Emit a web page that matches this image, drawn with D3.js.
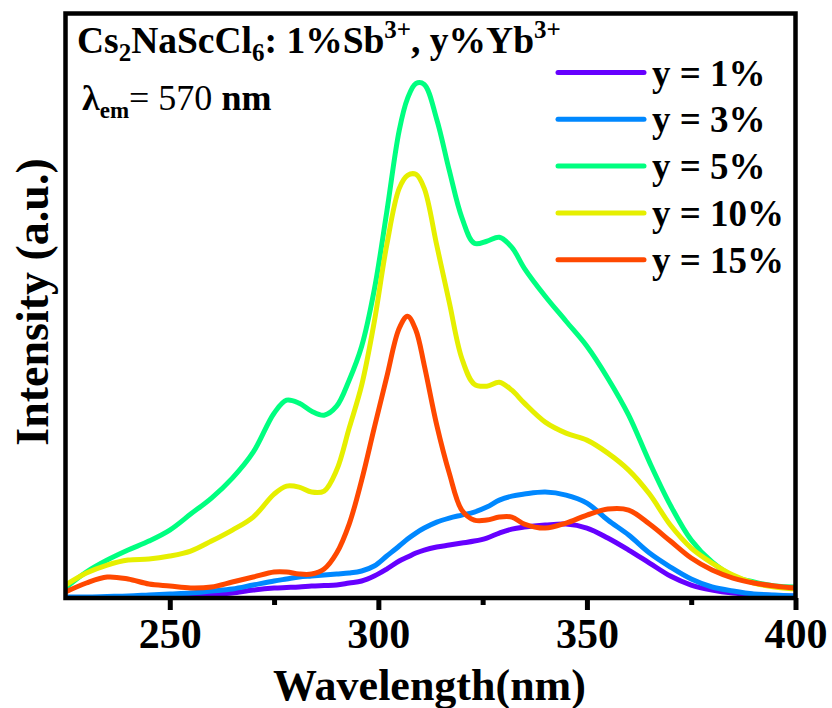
<!DOCTYPE html>
<html>
<head>
<meta charset="utf-8">
<script src="https://cdn.jsdelivr.net/npm/d3@7"></script>
<style>
  html, body { margin: 0; padding: 0; background: #fff; }
  svg text, svg tspan { font-family: "Liberation Serif", "Times New Roman", serif; fill: #000; }
  svg text { font-weight: bold; }
  svg tspan.plain { font-family: "Liberation Serif", "Times New Roman", serif; font-weight: 400; }
</style>
</head>
<body>
<svg id="chart" width="832" height="708"></svg>
<script>
// excitation wavelengths (nm)
var wavelength = [225, 230, 235, 240, 245, 250, 255, 260, 265, 270, 275, 278, 281, 284, 287, 290, 293, 296, 299, 302,
  305, 307, 309, 311, 314, 317, 320, 323, 326, 329, 332, 335, 340, 345, 350, 355, 360, 365, 370, 375,
  380, 385, 390, 395, 400];

// PLE intensity (a.u.) for each Yb3+ content
var yb1 = [0, 0, 0, 0, 0.5, 0.5, 1, 3, 5, 8, 10, 10.5, 11, 12, 12.5, 13, 15, 17, 22, 29,
  37, 41, 45, 48, 51, 53, 55, 57, 60, 65, 69, 71, 73, 74, 70, 60, 48, 35, 22, 13,
  8, 5, 3.5, 2.5, 2];
var yb3 = [1, 1, 1.5, 2, 3, 4, 5, 7, 9, 13, 17, 19, 21, 22, 23, 24, 25, 27, 32, 42,
  52, 59, 65, 70, 76, 80, 83, 86, 91, 98, 102, 104, 106, 103, 95, 78, 63, 45, 31, 19,
  11, 7, 4, 3, 2];
var yb5 = [10, 26, 38, 48, 57, 68, 84, 100, 120, 146, 185, 198, 195, 187, 183, 192, 218, 252, 308, 386,
  468, 500, 515, 514, 479, 428, 381, 355, 357, 361, 351, 330, 302, 277, 252, 220, 183, 136, 93, 58,
  36, 22, 16, 12, 11];
var yb10 = [13, 25, 33, 38, 39, 42, 47, 57, 68, 81, 104, 112, 111, 106, 107, 128, 170, 213, 276, 353,
  410, 423, 424, 410, 353, 296, 240, 214, 212, 216, 208, 195, 176, 165, 158, 145, 128, 104, 73, 50,
  35, 23, 15, 11, 9];
var yb15 = [6, 15, 21, 19, 14, 12, 10, 11, 16, 21, 26, 26, 24, 24, 29, 45, 74, 118, 170, 221,
  270, 282, 268, 233, 173, 125, 88, 78, 78, 81, 81, 74, 70, 75, 83, 89, 88, 74, 57, 40,
  28, 20, 15, 12, 10];

var seriesNames = ['y = 1%', 'y = 3%', 'y = 5%', 'y = 10%', 'y = 15%'];
var seriesValues = [yb1, yb3, yb5, yb10, yb15];
var seriesColors = ['#6600ff', '#0088ff', '#00ff80', '#e6ef00', '#ff4800'];

var xTicks = [250, 300, 350, 400];
var xMinorTicks = [275, 325, 375];

var svg = d3.select('#chart');

// plot area
var plotLeft = 65.5, plotRight = 795.5, plotTop = 13.5, plotBottom = 598;

var x = d3.scaleLinear().domain([225, 400]).range([plotLeft, plotRight]);
var y = d3.scaleLinear().domain([0, 585]).range([plotBottom, plotTop]);

svg.append('defs').append('clipPath').attr('id', 'plotclip')
  .append('rect').attr('x', plotLeft).attr('y', plotTop)
  .attr('width', plotRight - plotLeft).attr('height', plotBottom - plotTop);

var line = d3.line()
  .x(function (d) { return x(d[0]); })
  .y(function (d) { return y(d[1]); })
  .curve(d3.curveCatmullRom.alpha(0.5));

// curves, drawn in legend order
var curves = svg.append('g').attr('clip-path', 'url(#plotclip)');
seriesValues.forEach(function (vals, i) {
  var pts = wavelength.map(function (w, j) { return [w, vals[j]]; });
  curves.append('path')
    .attr('d', line(pts))
    .attr('fill', 'none')
    .attr('stroke', seriesColors[i])
    .attr('stroke-width', 5)
    .attr('stroke-linejoin', 'round');
});

// bottom axis, major and minor ticks
var xAxis = svg.append('g').attr('transform', 'translate(0,' + plotBottom + ')')
  .call(d3.axisBottom(x).tickValues(xTicks).tickSize(12).tickPadding(12));
xAxis.select('.domain').remove();
xAxis.selectAll('.tick line').attr('stroke', '#000').attr('stroke-width', 5);
xAxis.selectAll('.tick text').attr('font-size', 42).attr('dy', '0.62em');

var xMinor = svg.append('g').attr('transform', 'translate(0,' + plotBottom + ')')
  .call(d3.axisBottom(x).tickValues(xMinorTicks).tickSize(7).tickFormat(''));
xMinor.select('.domain').remove();
xMinor.selectAll('.tick line').attr('stroke', '#000').attr('stroke-width', 5);

// frame
svg.append('rect')
  .attr('x', plotLeft).attr('y', plotTop)
  .attr('width', plotRight - plotLeft).attr('height', plotBottom - plotTop)
  .attr('fill', 'none').attr('stroke', '#000').attr('stroke-width', 4.5);

// axis titles
svg.append('text')
  .attr('x', (plotLeft + plotRight) / 2 - 1).attr('y', 700)
  .attr('text-anchor', 'middle').attr('font-size', 44)
  .text('Wavelength(nm)');

svg.append('text')
  .attr('transform', 'translate(48,302) rotate(-90)')
  .attr('text-anchor', 'middle').attr('font-size', 46)
  .text('Intensity (a.u.)');

// sample label
var title = svg.append('text').attr('x', 77).attr('y', 53).attr('font-size', 37.5);
title.append('tspan').text('Cs');
title.append('tspan').attr('font-size', 25).attr('dy', 8).text('2');
title.append('tspan').attr('dy', -8).text('NaScCl');
title.append('tspan').attr('font-size', 25).attr('dy', 8).text('6');
title.append('tspan').attr('dy', -8).text(': 1%Sb');
title.append('tspan').attr('font-size', 25).attr('dy', -15).text('3+');
title.append('tspan').attr('dy', 15).text(', y%Yb');
title.append('tspan').attr('font-size', 25).attr('dy', -15).text('3+');

var lam = svg.append('text').attr('x', 82).attr('y', 110).attr('font-size', 36);
lam.append('tspan').text('\u03bb');
lam.append('tspan').attr('font-size', 23).attr('dy', 8).text('em');
lam.append('tspan').attr('dy', -8).attr('class', 'plain').text('= 570 ');
lam.append('tspan').text('nm');

// legend
var legend = svg.append('g');
seriesNames.forEach(function (name, i) {
  var ly = 72.5 + i * 46.8;
  legend.append('line')
    .attr('x1', 558).attr('x2', 644)
    .attr('y1', ly).attr('y2', ly)
    .attr('stroke', seriesColors[i]).attr('stroke-width', 5)
    .attr('stroke-linecap', 'round');
  legend.append('text')
    .attr('x', 652).attr('y', ly + 13)
    .attr('font-size', 37)
    .text(name);
});
</script>
</body>
</html>
